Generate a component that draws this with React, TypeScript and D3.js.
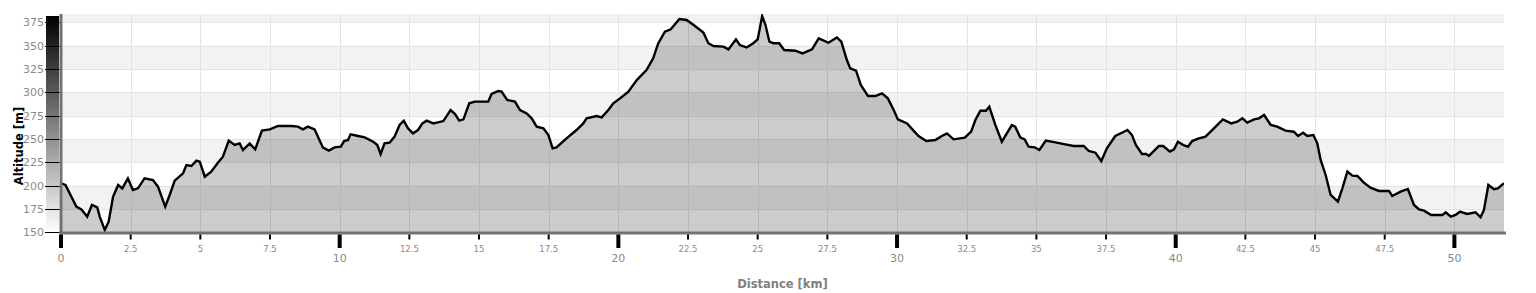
import React from "react";
import * as d3 from "d3";

const distanceKm = [
  0, 0.16, 0.55, 0.73, 0.94, 1.11, 1.3, 1.39, 1.57, 1.71, 1.87, 2.05, 2.2, 2.4, 2.58, 2.76, 3.0, 3.3, 3.48, 3.74, 3.9,
  4.08, 4.38, 4.5, 4.68, 4.86, 4.98, 5.16, 5.39, 5.63, 5.81, 6.02, 6.23, 6.41, 6.53, 6.77, 6.97, 7.21, 7.49, 7.79,
  8.27, 8.5, 8.68, 8.86, 9.1, 9.22, 9.4, 9.61, 9.82, 10.04, 10.16, 10.3, 10.39, 10.66, 10.9, 11.2, 11.35, 11.47,
  11.61, 11.79, 11.97, 12.15, 12.3, 12.45, 12.63, 12.81, 12.97,
  13.12, 13.36, 13.72, 13.98, 14.14, 14.29, 14.44, 14.65, 14.85, 15.33, 15.45, 15.69, 15.81, 16.01, 16.29, 16.47,
  16.71, 16.89, 17.07, 17.31, 17.49, 17.64, 17.78, 18.14, 18.5, 18.74, 18.86, 19.22, 19.4, 19.64, 19.82, 20.06,
  20.36, 20.66, 21.01, 21.25, 21.43, 21.67, 21.88, 22.19, 22.45, 22.75, 23.05, 23.23, 23.41, 23.77, 23.95, 24.22,
  24.36, 24.6, 24.84, 25.0, 25.16, 25.28, 25.42, 25.56, 25.77, 25.95,
  26.35, 26.61, 26.95, 27.19, 27.54, 27.84, 28.0, 28.2, 28.32, 28.53, 28.7, 28.96, 29.22, 29.46, 29.67, 29.88,
  30.03, 30.36, 30.59, 30.77, 31.05, 31.37, 31.61, 31.79, 32.03, 32.43, 32.66, 32.81, 32.99, 33.19, 33.31, 33.53,
  33.76, 34.12, 34.24, 34.42, 34.58, 34.72, 34.94, 35.11, 35.34, 35.68, 36.04, 36.34, 36.7, 36.88, 37.12, 37.33,
  37.53, 37.83, 38.07, 38.27, 38.43, 38.57, 38.79, 38.94,
  39.04, 39.4, 39.55, 39.79, 39.94, 40.08, 40.27, 40.44, 40.59, 40.83, 41.07, 41.37, 41.69, 41.99, 42.21, 42.39,
  42.57, 42.81, 42.99, 43.17, 43.41, 43.64, 43.94, 44.24, 44.39, 44.57, 44.72, 44.94, 45.08, 45.2, 45.38, 45.56,
  45.82, 45.98, 46.16, 46.34, 46.52, 46.75, 46.99, 47.29, 47.65, 47.77, 48.07, 48.33, 48.55, 48.73, 48.91, 49.17,
  49.57, 49.69, 49.87, 50.04, 50.2, 50.46, 50.76, 50.94, 51.06, 51.22, 51.42, 51.56, 51.78,
];

const altitudeM = [
  202.5, 200.7, 177.5, 174.6, 166.8, 179.3, 176.8, 166.8, 152.5, 161.4, 188.2, 200.7, 197.1, 207.8, 195.4, 197.1,
  207.8, 206.0, 198.9, 177.5, 190.0, 205.3, 213.2, 222.1, 221.0, 226.8, 225.7, 209.6, 215.0, 224.6, 231.0, 248.2,
  243.6, 245.3, 238.2, 245.3, 238.9, 258.9, 260.3, 263.9, 263.9, 263.2, 260.3, 263.2, 260.3, 252.5, 240.7, 237.5,
  241.0, 241.7, 247.8, 248.9, 255.0, 253.2, 251.7, 247.1, 243.5, 233.9, 245.3, 246.0, 252.5, 265.0, 269.6, 261.4,
  256.0, 259.6, 266.7,
  269.6, 266.7, 269.2, 281.0, 276.7, 269.6, 271.0, 288.2, 290.0, 290.0, 298.2, 301.4, 300.7, 291.8, 290.0, 281.0,
  277.4, 272.1, 263.2, 261.4, 254.2, 240.0, 241.0, 250.7, 259.6, 266.7, 272.1, 274.6, 273.2, 281.0, 288.2, 293.5,
  300.6, 313.1, 323.9, 336.4, 352.4, 364.9, 367.5, 378.5, 377.5, 371.1, 364.0, 352.6, 349.6, 348.9, 346.0, 356.7,
  350.6, 348.1, 352.6, 356.7, 381.7, 372.1, 354.2, 352.6, 352.6, 345.3,
  344.6, 341.7, 346.0, 357.8, 353.1, 358.8, 354.2, 334.6, 325.6, 323.1, 307.8, 296.0, 296.0, 298.9, 293.5, 281.0,
  271.0, 266.7, 258.9, 253.2, 247.8, 248.9, 253.2, 256.0, 249.6, 251.4, 257.8, 270.3, 280.3, 280.3, 284.6, 264.9,
  247.1, 264.9, 263.2, 251.7, 249.6, 241.7, 241.0, 238.2, 248.2, 246.4, 244.2, 242.5, 242.5, 237.1, 235.3, 226.4,
  240.0, 253.2, 256.7, 259.6, 254.2, 243.5, 233.9, 233.9,
  231.8, 242.5, 242.5, 236.4, 238.9, 247.1, 243.5, 241.7, 247.8, 250.7, 252.5, 261.4, 271.0, 266.7, 268.5, 272.1,
  267.5, 271.0, 272.1, 275.7, 265.0, 263.2, 258.9, 257.8, 253.2, 256.7, 253.2, 254.2, 245.3, 227.5, 211.4, 190.0,
  182.8, 197.1, 215.0, 210.7, 210.3, 203.2, 197.8, 194.3, 194.3, 188.9, 193.6, 196.4, 179.3, 174.6, 173.2, 168.6,
  168.6, 171.4, 166.8, 168.6, 172.1, 169.6, 171.4, 166.1, 173.9, 200.7, 196.1, 197.1, 202.5,
];

const altitudeTicks = [150, 175, 200, 225, 250, 275, 300, 325, 350, 375];
const majorDistanceTicks = [0, 10, 20, 30, 40, 50];
const minorDistanceTicks = [2.5, 5, 7.5, 12.5, 15, 17.5, 22.5, 25, 27.5, 32.5, 35, 37.5, 42.5, 45, 47.5];
const gridDistanceTicks = [0, 2.5, 5, 7.5, 10, 12.5, 15, 17.5, 20, 22.5, 25, 27.5, 30, 32.5, 35, 37.5, 40, 42.5, 45, 47.5, 50];
const bandEdges = [150, 175, 200, 225, 250, 275, 300, 325, 350, 375, 400];

const X_MAX = 51.78;
const Y_MIN = 150;
const Y_MAX = 383.9;

export default function App() {
  const left = 61, right = 1504, top = 14, bottom = 232.3;
  const x = d3.scaleLinear().domain([0, X_MAX]).range([left, right]);
  const y = d3.scaleLinear().domain([Y_MIN, Y_MAX]).range([bottom, top]);
  const pts = distanceKm.map((d, i) => [d, altitudeM[i]] as [number, number]);
  const area = d3.area<[number, number]>().x(d => x(d[0])).y0(y(Y_MIN)).y1(d => y(d[1]))(pts) || "";
  const line = d3.line<[number, number]>().x(d => x(d[0])).y(d => y(d[1]))(pts) || "";
  const font = "'DejaVu Sans', Verdana, sans-serif";

  return (
    <svg width={1536} height={293} style={{ position: "absolute", left: 0, top: 0, display: "block" }}>
      <defs>
        <linearGradient id="ygrad" x1="0" y1="0" x2="0" y2="1">
          <stop offset="0" stopColor="#000" />
          <stop offset="1" stopColor="#fff" />
        </linearGradient>
        <clipPath id="plotclip">
          <rect x={left} y={top} width={right - left} height={bottom - top} />
        </clipPath>
      </defs>
      <g clipPath="url(#plotclip)">
        {bandEdges.slice(0, -1).map((b, i) => (
          <rect key={b} x={left} width={right - left} y={y(bandEdges[i + 1])} height={y(b) - y(bandEdges[i + 1])}
            fill={i % 2 === 0 ? "#ffffff" : "#f2f2f2"} />
        ))}
        {altitudeTicks.map(t => (
          <line key={"h" + t} x1={left} x2={right} y1={Math.round(y(t)) + 0.5} y2={Math.round(y(t)) + 0.5} stroke="#e4e4e4" />
        ))}
        {gridDistanceTicks.map(t => (
          <line key={"v" + t} y1={top} y2={bottom} x1={Math.round(x(t)) + 0.5} x2={Math.round(x(t)) + 0.5} stroke="#e4e4e4" />
        ))}
        <path d={area} fill="rgba(0,0,0,0.2)" />
        <path d={line} fill="none" stroke="#000" strokeWidth={2.4} strokeLinejoin="miter" />
      </g>
      <rect x={46} y={16} width={13} height={bottom - 16} fill="url(#ygrad)" />
      {altitudeTicks.map(t => (
        <g key={"yt" + t}>
          <line x1={45} x2={60} y1={Math.round(y(t)) + 0.5} y2={Math.round(y(t)) + 0.5} stroke="#000" />
          <text x={44} y={y(t)} dy="0.36em" textAnchor="end" fontFamily={font} fontSize={11} fill="#8a8a8a">{t}</text>
        </g>
      ))}
      <line x1={61} x2={61} y1={top} y2={234.5} stroke="#727272" strokeWidth={3} />
      <line x1={59.5} x2={1506} y1={233} y2={233} stroke="#727272" strokeWidth={3} />
      {majorDistanceTicks.map(t => (
        <g key={"mx" + t}>
          <line x1={x(t)} x2={x(t)} y1={234.5} y2={248} stroke="#000" strokeWidth={4} />
          <text x={x(t)} y={262} textAnchor="middle" fontFamily={font} fontSize={11} fill="#8a8a8a">{t}</text>
        </g>
      ))}
      {minorDistanceTicks.map(t => (
        <g key={"nx" + t}>
          <line x1={x(t)} x2={x(t)} y1={234.5} y2={239.5} stroke="#000" strokeWidth={2} />
          <text x={x(t)} y={252} textAnchor="middle" fontFamily={font} fontSize={8.5} fill="#8a8a8a">{t}</text>
        </g>
      ))}
      <text x={(left + right) / 2} y={288} textAnchor="middle" fontFamily={font} fontSize={11.5} fontWeight="bold" fill="#808080">Distance [km]</text>
      <text transform={`translate(23,146) rotate(-90)`} textAnchor="middle" fontFamily={font} fontSize={11.5} fontWeight="bold" fill="#000">Altitude [m]</text>
    </svg>
  );
}
